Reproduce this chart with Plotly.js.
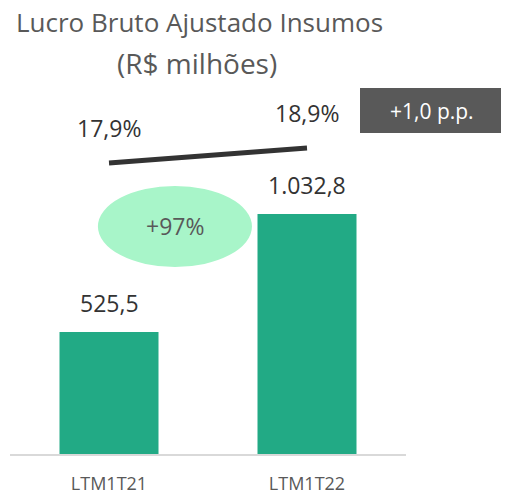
<!DOCTYPE html>
<html>
<head>
<meta charset="utf-8">
<script src="https://cdn.plot.ly/plotly-3.0.1.min.js"></script>
<style>html,body{margin:0;padding:0;background:#fff;}#chart{width:506px;height:496px;}</style>
</head>
<body>
<div id="chart"></div>
<script>
const categories = ["LTM1T21", "LTM1T22"];
const grossProfit = [525.5, 1032.8];
const marginPct = [17.9, 18.9];

function fmtBR(v, d) {
  const parts = v.toFixed(d).split(".");
  parts[0] = parts[0].replace(/\B(?=(\d{3})+(?!\d))/g, ".");
  return parts.join(",");
}

const growth = Math.round((grossProfit[1] / grossProfit[0] - 1) * 100);
const ppDiff = marginPct[1] - marginPct[0];

const FONT = "Open Sans, Roboto, sans-serif";
const TFONT = "Open Sans, Roboto, sans-serif";
const GRAY = "#595959";

// plot area: left 10, right 406, top 60, bottom 454
const PL = 10, PW = 396, PT = 60, PH = 394;
const px2x = p => (p - PL) / PW;
const py2y = p => (PT + PH - p) / PH;

const traces = [
  {
    type: "bar",
    x: categories,
    y: grossProfit,
    marker: { color: "#22AA85" },
    width: 0.5,
    hoverinfo: "skip"
  },
  {
    type: "scatter",
    mode: "lines",
    x: categories,
    y: marginPct,
    yaxis: "y2",
    line: { color: "#333333", width: 5 },
    hoverinfo: "skip"
  }
];

const annotations = [];
categories.forEach((c, i) => {
  annotations.push({
    x: c, y: grossProfit[i], xref: "x", yref: "y",
    text: fmtBR(grossProfit[i], 1), showarrow: false,
    xanchor: "center", yanchor: "bottom", yshift: 11,
    font: { family: FONT, size: 23, color: "#333333" }
  });
  annotations.push({
    x: c, y: marginPct[i], xref: "x", yref: "y2",
    text: fmtBR(marginPct[i], 1) + "%", showarrow: false,
    xanchor: "center", yanchor: "bottom", yshift: 17,
    font: { family: FONT, size: 23, color: "#333333" }
  });
});
annotations.push({
  x: 0.333, y: 980, xref: "x", yref: "y",
  text: "+" + growth + "%", showarrow: false,
  xanchor: "center", yanchor: "middle",
  font: { family: FONT, size: 23, color: GRAY }
});
annotations.push({
  x: px2x(432), y: py2y(111), xref: "paper", yref: "paper",
  text: "+" + fmtBR(ppDiff, 1) + " p.p.", showarrow: false,
  xanchor: "center", yanchor: "middle",
  font: { family: FONT, size: 21, color: "#ffffff" }
});
annotations.push({
  x: px2x(197), y: py2y(63), xref: "paper", yref: "paper",
  text: "(R$ milhões)", showarrow: false,
  xanchor: "center", yanchor: "middle",
  font: { family: TFONT, size: 28, color: GRAY }
});

const layout = {
  width: 506, height: 496,
  paper_bgcolor: "#ffffff", plot_bgcolor: "#ffffff",
  margin: { l: PL, r: 506 - PL - PW, t: PT, b: 496 - PT - PH },
  showlegend: false,
  title: {
    text: "Lucro Bruto Ajustado Insumos",
    x: 16 / 506, xanchor: "left", xref: "container",
    y: 1 - 23 / 496, yanchor: "middle", yref: "container",
    font: { family: TFONT, size: 26, color: GRAY }
  },
  xaxis: {
    type: "category",
    range: [-0.5, 1.5],
    showline: true, linecolor: "#d9d9d9", linewidth: 2,
    ticks: "", showgrid: false, zeroline: false,
    tickfont: { family: FONT, size: 18, color: GRAY },
    ticklabelstandoff: 12
  },
  yaxis: {
    range: [0, 1696],
    visible: false, showgrid: false, zeroline: false
  },
  yaxis2: {
    overlaying: "y",
    range: [-1.5, 24.77],
    visible: false, showgrid: false, zeroline: false
  },
  shapes: [
    {
      type: "circle", xref: "x", yref: "y",
      x0: -0.056, x1: 0.722, y0: 805, y1: 1154,
      fillcolor: "#A8F5C9", line: { width: 0 }, layer: "below"
    },
    {
      type: "rect", xref: "paper", yref: "paper",
      x0: px2x(360), x1: px2x(501), y0: py2y(133), y1: py2y(88),
      fillcolor: GRAY, line: { width: 0 }, layer: "below"
    }
  ],
  annotations: annotations
};

Plotly.newPlot("chart", traces, layout, { displayModeBar: false, staticPlot: true });
</script>
</body>
</html>
